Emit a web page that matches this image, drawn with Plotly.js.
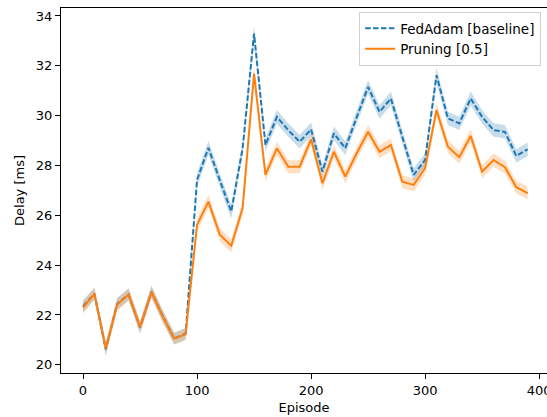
<!DOCTYPE html>
<html>
<head>
<meta charset="utf-8">
<script src="https://cdn.plot.ly/plotly-3.0.1.min.js"></script>
<style>
  html, body { margin: 0; padding: 0; background: #fff; overflow: hidden; }
  #chart { width: 547px; height: 417px; }
</style>
</head>
<body>
<div id="chart"></div>
<script>
// Episodes sampled every 10 steps
const episodes = [0, 10, 20, 30, 40, 50, 60, 70, 80, 90,
                  100, 110, 120, 130, 140, 150, 160, 170, 180, 190,
                  200, 210, 220, 230, 240, 250, 260, 270, 280, 290,
                  300, 310, 320, 330, 340, 350, 360, 370, 380, 390];

// Mean delay [ms] per episode
const fedAdamMean = [22.35, 22.85, 20.62, 22.45, 22.82, 21.50, 22.93, 21.95, 21.05, 21.25,
                     27.42, 28.71, 27.40, 26.15, 28.69, 33.29, 28.82, 29.95, 29.42, 28.95,
                     29.45, 27.75, 29.29, 28.69, 29.93, 31.15, 30.15, 30.69, 29.15, 27.62,
                     28.22, 31.62, 29.89, 29.69, 30.69, 29.95, 29.42, 29.35, 28.38, 28.65];

const pruningMean = [22.29, 22.85, 20.66, 22.42, 22.82, 21.51, 22.91, 21.93, 21.05, 21.22,
                     25.62, 26.55, 25.22, 24.78, 26.29, 31.69, 27.62, 28.69, 27.95, 27.95,
                     29.05, 27.29, 28.55, 27.55, 28.49, 29.35, 28.55, 28.82, 27.35, 27.22,
                     27.89, 30.22, 28.75, 28.33, 29.18, 27.75, 28.22, 27.93, 27.13, 26.89];

// Half-width of the shaded confidence band [ms]
const fedAdamSpread = [0.24, 0.24, 0.26, 0.24, 0.24, 0.24, 0.24, 0.24, 0.24, 0.24,
                       0.27, 0.27, 0.27, 0.28, 0.27, 0.30, 0.27, 0.28, 0.27, 0.27,
                       0.27, 0.27, 0.27, 0.27, 0.27, 0.28, 0.27, 0.28, 0.27, 0.27,
                       0.27, 0.29, 0.27, 0.27, 0.28, 0.27, 0.27, 0.27, 0.27, 0.27];

const pruningSpread = [0.24, 0.24, 0.26, 0.24, 0.24, 0.24, 0.24, 0.24, 0.24, 0.24,
                       0.26, 0.26, 0.26, 0.26, 0.26, 0.29, 0.26, 0.26, 0.26, 0.26,
                       0.26, 0.26, 0.26, 0.26, 0.26, 0.27, 0.26, 0.26, 0.26, 0.26,
                       0.26, 0.28, 0.26, 0.26, 0.26, 0.26, 0.26, 0.26, 0.26, 0.26];

const seriesNames = ['FedAdam [baseline]', 'Pruning [0.5]'];
const xTicks = [0, 100, 200, 300, 400];
const yTicks = [20, 22, 24, 26, 28, 30, 32, 34];

const BLUE = '#1f77b4';
const ORANGE = '#ff7f0e';

function band(mean, spread, fillColor) {
  const upper = mean.map((m, i) => m + spread[i]);
  const lower = mean.map((m, i) => m - spread[i]);
  return {
    x: episodes.concat(episodes.slice().reverse()),
    y: upper.concat(lower.slice().reverse()),
    type: 'scatter',
    mode: 'lines',
    fill: 'toself',
    fillcolor: fillColor,
    line: { width: 0 },
    hoverinfo: 'skip',
    showlegend: false
  };
}

const traces = [
  band(fedAdamMean, fedAdamSpread, 'rgba(31,119,180,0.25)'),
  {
    x: episodes, y: fedAdamMean, type: 'scatter', mode: 'lines',
    name: seriesNames[0],
    line: { color: BLUE, width: 2, dash: '5.5px,2.4px' }
  },
  band(pruningMean, pruningSpread, 'rgba(255,127,14,0.25)'),
  {
    x: episodes, y: pruningMean, type: 'scatter', mode: 'lines',
    name: seriesNames[1],
    line: { color: ORANGE, width: 2 }
  }
];

const font = { family: 'DejaVu Sans, sans-serif', size: 13, color: '#000' };

const layout = {
  width: 547,
  height: 417,
  margin: { l: 61, r: 0, t: 8, b: 44, pad: 0 },
  paper_bgcolor: '#fff',
  plot_bgcolor: '#fff',
  font: font,
  showlegend: true,
  legend: {
    x: 0.988, xanchor: 'right',
    y: 0.989, yanchor: 'top',
    bgcolor: 'rgba(255,255,255,0.85)',
    bordercolor: '#d0d0d0',
    borderwidth: 1,
    font: { family: 'DejaVu Sans, sans-serif', size: 13.5, color: '#000' },
    itemwidth: 30,
    tracegroupgap: 0
  },
  xaxis: {
    range: [-19.3, 406.9],
    tickvals: xTicks,
    ticktext: xTicks.map(String),
    ticklabeloverflow: 'allow',
    ticks: 'outside', ticklen: 5, tickwidth: 1, tickcolor: '#000',
    showline: true, linecolor: '#000', linewidth: 1,
    mirror: true,
    showgrid: false, zeroline: false,
    tickfont: font,
    title: { text: 'Episode', font: font, standoff: 6 }
  },
  yaxis: {
    range: [19.67, 34.32],
    tickvals: yTicks,
    ticktext: yTicks.map(String),
    ticks: 'outside', ticklen: 5, tickwidth: 1, tickcolor: '#000',
    showline: true, linecolor: '#000', linewidth: 1,
    mirror: false,
    showgrid: false, zeroline: false,
    tickfont: font,
    title: { text: 'Delay [ms]', font: font, standoff: 8 }
  }
};

Plotly.newPlot('chart', traces, layout, { staticPlot: true, displayModeBar: false });
</script>
</body>
</html>
